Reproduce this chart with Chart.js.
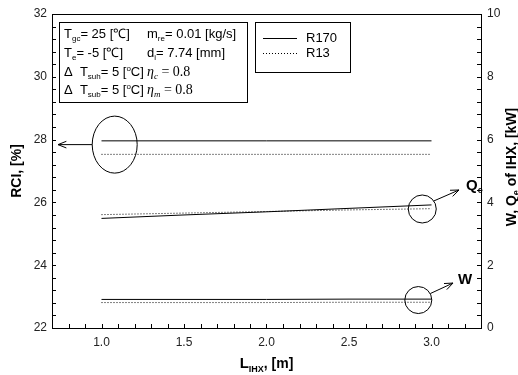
<!DOCTYPE html>
<html>
<head>
<meta charset="utf-8">
<script src="https://cdn.jsdelivr.net/npm/chart.js@4.4.1/dist/chart.umd.min.js"></script>
<style>
  html, body { margin: 0; padding: 0; background: #fff; }
  #wrap { width: 518px; height: 375px; position: relative; }
</style>
</head>
<body>
<div id="wrap"><canvas id="ihxChart"></canvas></div>
<script>
// IHX length [m]
const lengths = [1.0, 1.5, 2.0, 2.5, 3.0];
// RCI [%] (left axis)
const rciR170 = [27.96, 27.96, 27.96, 27.96, 27.96];
const rciR13 = [27.53, 27.53, 27.53, 27.53, 27.53];
// Qe [kW] (right axis)
const qeR170 = [3.49, 3.60, 3.70, 3.81, 3.92];
const qeR13 = [3.61, 3.66, 3.71, 3.76, 3.80];
// W [kW] (right axis)
const wR170 = [0.91, 0.91, 0.91, 0.92, 0.92];
const wR13 = [0.81, 0.81, 0.81, 0.82, 0.82];
// labelled ticks
const lengthTicks = [1.0, 1.5, 2.0, 2.5, 3.0];
const rciTicks = [22, 24, 26, 28, 30, 32];
const kwTicks = [0, 2, 4, 6, 8, 10];
const seriesNames = ['R170', 'R13'];

const SANS = "'Liberation Sans', Arial, sans-serif";
const SERIF = "'Liberation Serif', 'Times New Roman', serif";

function pts(xs, ys) {
    return xs.map((x, i) => ({ x: x, y: ys[i] }));
}

function isLabelled(v, list) {
    return list.some(t => Math.abs(t - v) < 1e-6);
}

function drawParts(ctx, x, y, parts) {
    parts.forEach(p => {
        ctx.font = p.font;
        ctx.fillText(p.t, x, y + (p.dy || 0));
        x += ctx.measureText(p.t).width;
    });
    return x;
}

function partsWidth(ctx, parts) {
    let w = 0;
    parts.forEach(p => { ctx.font = p.font; w += ctx.measureText(p.t).width; });
    return w;
}

function arrow(ctx, x1, y1, x2, y2) {
    const a = Math.atan2(y2 - y1, x2 - x1);
    const len = 9, spread = 0.38;
    ctx.beginPath();
    ctx.moveTo(x1, y1);
    ctx.lineTo(x2, y2);
    ctx.moveTo(x2 - len * Math.cos(a - spread), y2 - len * Math.sin(a - spread));
    ctx.lineTo(x2, y2);
    ctx.lineTo(x2 - len * Math.cos(a + spread), y2 - len * Math.sin(a + spread));
    ctx.stroke();
}

function line(ctx, x1, y1, x2, y2) {
    ctx.beginPath();
    ctx.moveTo(x1, y1);
    ctx.lineTo(x2, y2);
    ctx.stroke();
}

const sub = t => ({ t: t, font: '8px ' + SANS, dy: 3 });
const txt = t => ({ t: t, font: '13px ' + SANS });

const decorPlugin = {
    id: 'decor',
    afterDraw(chart) {
        const ctx = chart.ctx;
        const a = chart.chartArea;
        const sx = chart.scales.x, sy = chart.scales.y, sy1 = chart.scales.y1;
        ctx.save();
        ctx.strokeStyle = '#000';
        ctx.fillStyle = '#000';
        ctx.lineWidth = 1;
        ctx.setLineDash([]);

        // frame
        ctx.strokeRect(Math.round(a.left) + 0.5, Math.round(a.top) + 0.5,
            Math.round(a.right - a.left), Math.round(a.bottom - a.top));

        // inward ticks
        const tl = 4;
        sx.ticks.forEach(t => {
            const p = Math.round(sx.getPixelForValue(t.value)) + 0.5;
            if (p > a.left + 2 && p < a.right - 2) line(ctx, p, a.bottom, p, a.bottom - tl);
        });
        sy.ticks.forEach(t => {
            const p = Math.round(sy.getPixelForValue(t.value)) + 0.5;
            if (p > a.top + 2 && p < a.bottom - 2) line(ctx, a.left, p, a.left + tl, p);
        });
        sy1.ticks.forEach(t => {
            const p = Math.round(sy1.getPixelForValue(t.value)) + 0.5;
            if (p > a.top + 2 && p < a.bottom - 2) line(ctx, a.right, p, a.right - tl, p);
        });

        // axis titles
        ctx.textBaseline = 'alphabetic';
        ctx.save();
        ctx.translate(21, (a.top + a.bottom) / 2);
        ctx.rotate(-Math.PI / 2);
        ctx.textAlign = 'center';
        ctx.font = 'bold 14px ' + SANS;
        ctx.fillText('RCI, [%]', 0, 0);
        ctx.restore();

        const rightTitle = [
            { t: 'W, Q', font: 'bold 14px ' + SANS },
            { t: 'e', font: 'bold 9px ' + SANS, dy: 3 },
            { t: ' of IHX, [kW]', font: 'bold 14px ' + SANS }
        ];
        ctx.save();
        ctx.translate(516, (a.top + a.bottom) / 2 - 4);
        ctx.rotate(-Math.PI / 2);
        ctx.textAlign = 'left';
        drawParts(ctx, -partsWidth(ctx, rightTitle) / 2, 0, rightTitle);
        ctx.restore();

        const xTitle = [
            { t: 'L', font: 'bold 15px ' + SANS },
            { t: 'IHX', font: 'bold 9px ' + SANS, dy: 4 },
            { t: ', [m]', font: 'bold 14px ' + SANS }
        ];
        ctx.textAlign = 'left';
        drawParts(ctx, (a.left + a.right) / 2 - partsWidth(ctx, xTitle) / 2, 368, xTitle);

        // condition box
        ctx.strokeRect(59.5, 22.5, 188, 80);
        const c1 = 64, c2 = 147;
        const rows = [38, 57, 76, 94];
        drawParts(ctx, c1, rows[0], [txt('T'), sub('gc'), txt('= 25 [\u2103]')]);
        drawParts(ctx, c2, rows[0], [txt('m'), sub('re'), txt('= 0.01 [kg/s]')]);
        drawParts(ctx, c1, rows[1], [txt('T'), sub('e'), txt('= -5 [\u2103]')]);
        drawParts(ctx, c2, rows[1], [txt('d'), sub('i'), txt('= 7.74 [mm]')]);
        drawParts(ctx, c1, rows[2], [txt('\u0394  T'), sub('suh'), txt('= 5 ['),
            { t: 'o', font: '8px ' + SANS, dy: -5 }, txt('C]')]);
        drawParts(ctx, c1, rows[3], [txt('\u0394  T'), sub('sub'), txt('= 5 ['),
            { t: 'o', font: '8px ' + SANS, dy: -5 }, txt('C]')]);
        drawParts(ctx, c2, rows[2], [{ t: '\u03b7', font: 'italic 14px ' + SERIF },
            { t: 'c', font: 'italic 9px ' + SERIF, dy: 3 },
            { t: ' = 0.8', font: '14px ' + SERIF }]);
        drawParts(ctx, c2, rows[3], [{ t: '\u03b7', font: 'italic 14px ' + SERIF },
            { t: 'm', font: 'italic 9px ' + SERIF, dy: 3 },
            { t: ' = 0.8', font: '14px ' + SERIF }]);

        // legend box
        ctx.strokeRect(255.5, 22.5, 95, 50);
        ctx.font = '13px ' + SANS;
        line(ctx, 263, 38.5, 297, 38.5);
        ctx.setLineDash([1, 2]);
        line(ctx, 263, 53.5, 297, 53.5);
        ctx.setLineDash([]);
        ctx.textBaseline = 'middle';
        ctx.fillText(seriesNames[0], 306, 38);
        ctx.fillText(seriesNames[1], 306, 53);
        ctx.textBaseline = 'alphabetic';

        // RCI ellipse + arrow to left axis
        const ex = sx.getPixelForValue(1.08), ey = sy.getPixelForValue(27.84);
        ctx.beginPath();
        ctx.ellipse(ex, ey, 22.5, 28.5, 0, 0, Math.PI * 2);
        ctx.stroke();
        arrow(ctx, ex - 22.5, ey, a.left + 6, ey);

        // Qe circle + arrow + label
        const qx = sx.getPixelForValue(2.944), qy = sy1.getPixelForValue(3.79);
        ctx.beginPath();
        ctx.arc(qx, qy, 14, 0, Math.PI * 2);
        ctx.stroke();
        arrow(ctx, qx + 11.5, qy - 8, 459, qy - 19);
        drawParts(ctx, 466, qy - 19, [{ t: 'Q', font: 'bold 15px ' + SANS },
            { t: 'e', font: 'bold 9px ' + SANS, dy: 3 }]);

        // W circle + arrow + label
        const wx = sx.getPixelForValue(2.92), wy = sy1.getPixelForValue(0.89);
        ctx.beginPath();
        ctx.arc(wx, wy, 13.5, 0, Math.PI * 2);
        ctx.stroke();
        arrow(ctx, wx + 12, wy - 6.5, 453, wy - 17);
        drawParts(ctx, 458, wy - 16, [{ t: 'W', font: 'bold 15px ' + SANS }]);

        ctx.restore();
    }
};

const solid = { borderColor: '#000', borderWidth: 1, pointRadius: 0, tension: 0, fill: false };
const dotted = Object.assign({}, solid, { borderDash: [1, 2] });

const tickFont = { family: SANS, size: 12 };

new Chart(document.getElementById('ihxChart'), {
    type: 'line',
    data: {
        datasets: [
            Object.assign({ label: 'RCI ' + seriesNames[0], data: pts(lengths, rciR170), yAxisID: 'y' }, solid),
            Object.assign({ label: 'RCI ' + seriesNames[1], data: pts(lengths, rciR13), yAxisID: 'y' }, dotted),
            Object.assign({ label: 'Qe ' + seriesNames[0], data: pts(lengths, qeR170), yAxisID: 'y1' }, solid),
            Object.assign({ label: 'Qe ' + seriesNames[1], data: pts(lengths, qeR13), yAxisID: 'y1' }, dotted),
            Object.assign({ label: 'W ' + seriesNames[0], data: pts(lengths, wR170), yAxisID: 'y1' }, solid),
            Object.assign({ label: 'W ' + seriesNames[1], data: pts(lengths, wR13), yAxisID: 'y1' }, dotted)
        ]
    },
    options: {
        responsive: true,
        maintainAspectRatio: false,
        animation: false,
        layout: { padding: { top: 14, left: 0, right: 0, bottom: 0 } },
        plugins: { legend: { display: false }, tooltip: { enabled: false } },
        scales: {
            x: {
                type: 'linear',
                min: 0.7,
                max: 3.3,
                grid: { display: false, drawTicks: false },
                border: { display: false },
                ticks: {
                    stepSize: 0.1,
                    autoSkip: false,
                    maxRotation: 0,
                    padding: 7,
                    color: '#222',
                    font: tickFont,
                    callback: v => isLabelled(v, lengthTicks) ? v.toFixed(1) : ''
                },
                afterFit: s => { s.height = 47; }
            },
            y: {
                position: 'left',
                min: 22,
                max: 32,
                grid: { display: false, drawTicks: false },
                border: { display: false },
                ticks: {
                    stepSize: 0.4,
                    autoSkip: false,
                    padding: 5,
                    color: '#222',
                    font: tickFont,
                    callback: v => isLabelled(v, rciTicks) ? String(Math.round(v)) : ''
                },
                afterFit: s => { s.width = 52; }
            },
            y1: {
                position: 'right',
                min: 0,
                max: 10,
                grid: { display: false, drawTicks: false },
                border: { display: false },
                ticks: {
                    stepSize: 0.4,
                    autoSkip: false,
                    padding: 6,
                    color: '#222',
                    font: tickFont,
                    callback: v => isLabelled(v, kwTicks) ? String(Math.round(v)) : ''
                },
                afterFit: s => { s.width = 37; }
            }
        }
    },
    plugins: [decorPlugin]
});
</script>
</body>
</html>
